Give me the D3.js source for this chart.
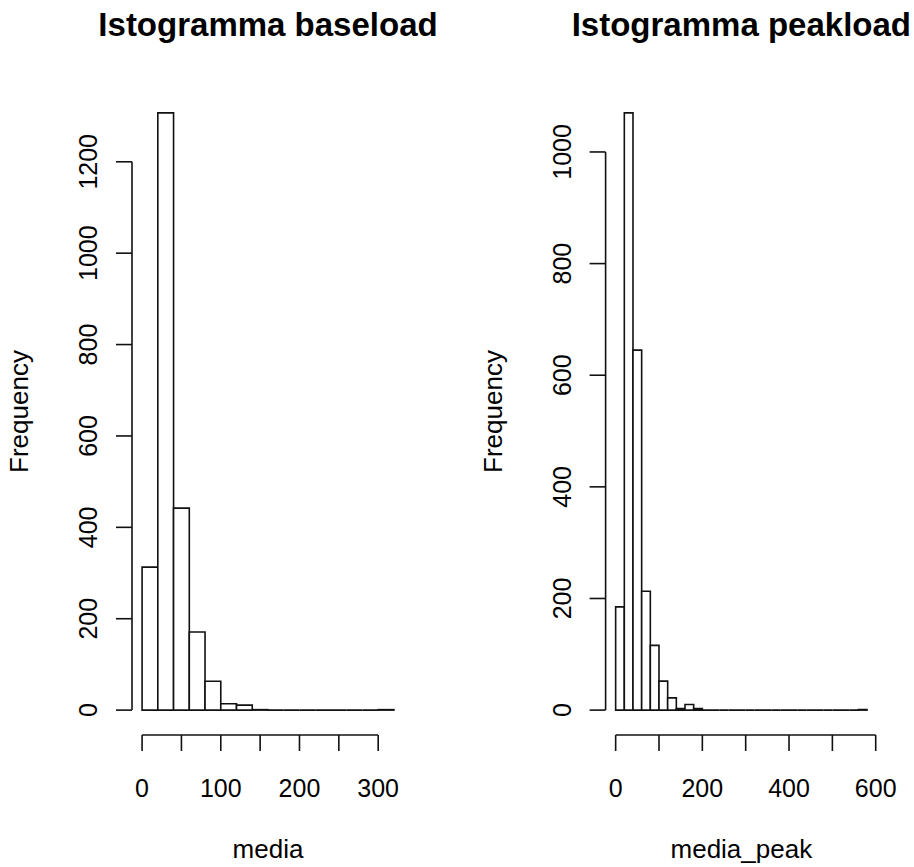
<!DOCTYPE html>
<html>
<head>
<meta charset="utf-8">
<script src="https://cdn.jsdelivr.net/npm/d3@7"></script>
<style>
  html, body { margin: 0; padding: 0; background: #fff; }
  svg { display: block; }
  text { font-family: "Liberation Sans", Arial, Helvetica, sans-serif; fill: #000; }
</style>
</head>
<body>
<svg id="chart" width="914" height="867"></svg>
<script>
// Histogram bin edges (width 20) and counts
const baseBreaks = [0, 20, 40, 60, 80, 100, 120, 140, 160, 180, 200, 220, 240, 260, 280, 300, 320];
const baseCounts = [313, 1307, 442, 171, 63, 14, 11, 1, 0, 0, 0, 0, 0, 0, 0, 1];

const peakBreaks = [0, 20, 40, 60, 80, 100, 120, 140, 160, 180, 200, 220, 240, 260, 280, 300,
                    320, 340, 360, 380, 400, 420, 440, 460, 480, 500, 520, 540, 560, 580];
const peakCounts = [185, 1070, 645, 213, 116, 52, 22, 3, 10, 3, 0, 0, 0, 0, 0, 0,
                    0, 0, 0, 0, 0, 0, 0, 0, 0, 0, 0, 0, 1];

// Axis ticks and the subset that carries labels
const baseXTicks = [0, 50, 100, 150, 200, 250, 300];
const baseXLabels = [0, 100, 200, 300];
const baseYTicks = [0, 200, 400, 600, 800, 1000, 1200];

const peakXTicks = [0, 100, 200, 300, 400, 500, 600];
const peakXLabels = [0, 200, 400, 600];
const peakYTicks = [0, 200, 400, 600, 800, 1000];

const titles = ["Istogramma baseload", "Istogramma peakload"];
const xLabels = ["media", "media_peak"];
const yLabel = "Frequency";

const svg = d3.select("#chart");
const INK = "#111";
const SW = 1.6;

// extend a range by 4% on both sides
function padded(lo, hi) {
  const d = (hi - lo) * 0.04;
  return [lo - d, hi + d];
}

function panel(opts) {
  const { left, right, top, bottom, breaks, counts, xTicks, xLab, yTicks,
          title, xTitle } = opts;
  const g = svg.append("g");

  const x = d3.scaleLinear()
    .domain(padded(breaks[0], breaks[breaks.length - 1]))
    .range([left, right]);
  const y = d3.scaleLinear()
    .domain(padded(0, d3.max(counts)))
    .range([bottom, top]);

  const bins = counts.map((c, i) => ({ x0: breaks[i], x1: breaks[i + 1], n: c }));

  // bars as closed outlines, so empty bins still show as a line on zero
  g.selectAll("path.bar").data(bins).enter().append("path")
    .attr("class", "bar")
    .attr("d", d => {
      const p = d3.path();
      p.moveTo(x(d.x0), y(0));
      p.lineTo(x(d.x0), y(d.n));
      p.lineTo(x(d.x1), y(d.n));
      p.lineTo(x(d.x1), y(0));
      p.closePath();
      return p.toString();
    })
    .attr("fill", "#fff")
    .attr("stroke", INK)
    .attr("stroke-width", SW)
    .attr("stroke-linejoin", "miter");

  // y axis at the left edge of the plot region
  const yAxis = g.append("g");
  yAxis.append("line")
    .attr("x1", left).attr("x2", left)
    .attr("y1", y(yTicks[0])).attr("y2", y(yTicks[yTicks.length - 1]))
    .attr("stroke", INK).attr("stroke-width", SW);
  yAxis.selectAll("line.tick").data(yTicks).enter().append("line")
    .attr("class", "tick")
    .attr("x1", left).attr("x2", left - 16)
    .attr("y1", d => y(d)).attr("y2", d => y(d))
    .attr("stroke", INK).attr("stroke-width", SW);
  yAxis.selectAll("text").data(yTicks).enter().append("text")
    .attr("transform", d => `translate(${left - 35},${y(d)}) rotate(-90)`)
    .attr("text-anchor", "middle")
    .attr("font-size", 25)
    .text(d => d);

  // x axis at the bottom edge of the plot region
  const xAxis = g.append("g");
  xAxis.append("line")
    .attr("x1", x(xTicks[0])).attr("x2", x(xTicks[xTicks.length - 1]))
    .attr("y1", bottom + 1).attr("y2", bottom + 1)
    .attr("stroke", INK).attr("stroke-width", SW);
  xAxis.selectAll("line.tick").data(xTicks).enter().append("line")
    .attr("class", "tick")
    .attr("x1", d => x(d)).attr("x2", d => x(d))
    .attr("y1", bottom + 1).attr("y2", bottom + 17)
    .attr("stroke", INK).attr("stroke-width", SW);
  xAxis.selectAll("text").data(xLab).enter().append("text")
    .attr("x", d => x(d))
    .attr("y", 797)
    .attr("text-anchor", "middle")
    .attr("font-size", 25)
    .text(d => d);

  const cx = (left + right) / 2;
  const cy = (top + bottom) / 2;

  g.append("text")
    .attr("x", cx).attr("y", 36)
    .attr("text-anchor", "middle")
    .attr("font-size", 33)
    .attr("font-weight", "bold")
    .text(title);

  g.append("text")
    .attr("x", cx).attr("y", 858)
    .attr("text-anchor", "middle")
    .attr("font-size", 26)
    .text(xTitle);

  g.append("text")
    .attr("transform", `translate(${left - 104},${cy}) rotate(-90)`)
    .attr("text-anchor", "middle")
    .attr("font-size", 26)
    .text(yLabel);
}

panel({
  left: 132, right: 404, top: 89, bottom: 734,
  breaks: baseBreaks, counts: baseCounts,
  xTicks: baseXTicks, xLab: baseXLabels, yTicks: baseYTicks,
  title: titles[0], xTitle: xLabels[0]
});

panel({
  left: 605.6, right: 877.1, top: 89, bottom: 734,
  breaks: peakBreaks, counts: peakCounts,
  xTicks: peakXTicks, xLab: peakXLabels, yTicks: peakYTicks,
  title: titles[1], xTitle: xLabels[1]
});
</script>
</body>
</html>
